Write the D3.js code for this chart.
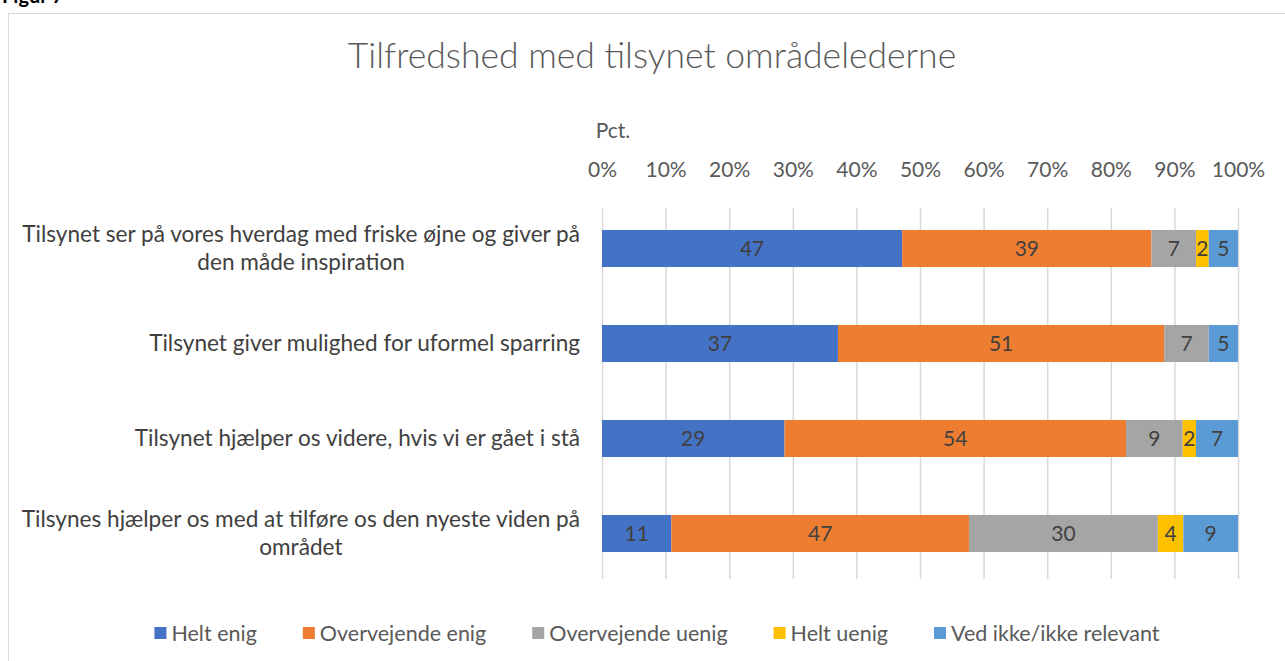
<!DOCTYPE html>
<html>
<head>
<meta charset="utf-8">
<script src="https://cdn.jsdelivr.net/npm/d3@7"></script>
<style>
  body { margin: 0; background: #fff; }
  svg { font-family: Lato, "Open Sans", sans-serif; }
</style>
</head>
<body>
<svg id="chart"></svg>
<script>
var categories = [
  "Tilsynet ser på vores hverdag med friske øjne og giver på den måde inspiration",
  "Tilsynet giver mulighed for uformel sparring",
  "Tilsynet hjælper os videre, hvis vi er gået i stå",
  "Tilsynes hjælper os med at tilføre os den nyeste viden på området"
];
var seriesNames = ["Helt enig", "Overvejende enig", "Overvejende uenig", "Helt uenig", "Ved ikke/ikke relevant"];
var heltEnig = [47.2, 37.1, 28.7, 10.9];
var overvejendeEnig = [39.2, 51.3, 53.7, 46.8];
var overvejendeUenig = [7.0, 7.0, 8.9, 29.7];
var heltUenig = [2.0, 0, 2.1, 4.0];
var vedIkke = [4.6, 4.6, 6.6, 8.6];
var xTicks = [0, 10, 20, 30, 40, 50, 60, 70, 80, 90, 100];
var colors = ["#4472C4", "#ED7D31", "#A5A5A5", "#FFC000", "#5B9BD5"];

var width = 1285, height = 661;
var fs = 21, catFs = 22.6;
var svg = d3.select("#chart").attr("width", width).attr("height", height);

var rows = categories.map(function(c, i) {
  return { cat: c, "Helt enig": heltEnig[i], "Overvejende enig": overvejendeEnig[i],
    "Overvejende uenig": overvejendeUenig[i], "Helt uenig": heltUenig[i], "Ved ikke/ikke relevant": vedIkke[i] };
});

var x = d3.scaleLinear().domain([0, 100]).range([602, 1238]);
var y = d3.scaleBand().domain(categories).range([201, 581]).paddingInner(0.61).paddingOuter(0.305);
var color = d3.scaleOrdinal().domain(seriesNames).range(colors);

// frame
svg.append("rect").attr("x", 8.5).attr("y", 13.5).attr("width", 1290).attr("height", 700)
  .attr("fill", "none").attr("stroke", "#d9d9d9");

svg.append("text").attr("x", 2).attr("y", 3).attr("font-weight", "bold")
  .attr("font-size", 20).attr("fill", "#000").text("Figur 7");

svg.append("text").attr("x", 652).attr("y", 68).attr("text-anchor", "middle")
  .attr("font-size", 35.5).attr("font-weight", 300).attr("fill", "#595959")
  .text("Tilfredshed med tilsynet områdelederne");

svg.append("text").attr("x", 613).attr("y", 138).attr("text-anchor", "middle")
  .attr("font-size", fs).attr("fill", "#595959").text("Pct.");

// gridlines
svg.append("g").selectAll("line").data(xTicks).enter().append("line")
  .attr("x1", function(d) { return x(d) + 0.5; }).attr("x2", function(d) { return x(d) + 0.5; })
  .attr("y1", 208).attr("y2", 579).attr("stroke", "#d9d9d9").attr("stroke-width", 1.5);

var xAxis = d3.axisTop(x).tickValues(xTicks).tickSize(0).tickPadding(0).tickFormat(function(d) { return d + "%"; });
var gx = svg.append("g").attr("transform", "translate(0,177)").call(xAxis);
gx.select(".domain").remove();
gx.selectAll("text").attr("font-size", fs).attr("fill", "#595959").attr("font-family", "Lato");

var stack = d3.stack().keys(seriesNames);
var series = stack(rows);

var layer = svg.append("g").selectAll("g").data(series).enter().append("g")
  .attr("fill", function(d) { return color(d.key); });
layer.selectAll("rect").data(function(d) { return d; }).enter().append("rect")
  .attr("x", function(d) { return x(d[0]); })
  .attr("y", function(d) { return y(d.data.cat); })
  .attr("width", function(d) { return x(d[1]) - x(d[0]); })
  .attr("height", y.bandwidth());

layer.selectAll("text").data(function(d) { return d.filter(function(v) { return v[1] - v[0] > 0; }); })
  .enter().append("text")
  .attr("x", function(d) { return (x(d[0]) + x(d[1])) / 2; })
  .attr("y", function(d) { return y(d.data.cat) + y.bandwidth() / 2; })
  .attr("dy", "0.35em").attr("text-anchor", "middle")
  .attr("font-size", fs).attr("fill", "#404040")
  .text(function(d) { return d3.format(".0f")(d[1] - d[0]); });

// category labels
var yAxis = d3.axisLeft(y).tickSize(0).tickPadding(0);
var gy = svg.append("g").attr("transform", "translate(580,0)").call(yAxis);
gy.select(".domain").remove();
gy.selectAll("text").attr("font-size", catFs).attr("fill", "#404040").attr("font-family", "Lato")
  .attr("text-anchor", "middle").call(wrap, 570);

function wrap(texts, maxW) {
  texts.each(function() {
    var t = d3.select(this), words = t.text().split(" "), lines = [], line = [];
    t.text(null);
    var probe = t.append("tspan");
    words.forEach(function(w) {
      line.push(w);
      probe.text(line.join(" "));
      if (probe.node().getComputedTextLength() > maxW && line.length > 1) {
        line.pop(); lines.push(line.join(" ")); line = [w];
      }
    });
    lines.push(line.join(" "));
    probe.remove();
    var lh = 28;
    lines.forEach(function(l, i) {
      t.append("tspan").attr("dy", i === 0 ? (-(lines.length - 1) * lh / 2 + catFs * 0.35) + "px" : lh + "px").text(l);
    });
    var maxLen = d3.max(t.selectAll("tspan").nodes(), function(n) { return n.getComputedTextLength(); });
    t.selectAll("tspan").attr("x", -maxLen / 2);
  });
}

// legend
var legend = svg.append("g").attr("transform", "translate(0,633)");
var items = legend.selectAll("g").data(seriesNames).enter().append("g");
items.append("rect").attr("width", 12).attr("height", 12).attr("y", -6)
  .attr("fill", function(d) { return color(d); });
items.append("text").attr("x", 17).attr("dy", "0.35em").attr("font-size", 21.5)
  .attr("fill", "#595959").text(function(d) { return d; });
var gap = 46, pos = 0, offs = [];
items.each(function() {
  offs.push(pos);
  pos += 17 + d3.select(this).select("text").node().getComputedTextLength() + gap;
});
var total = pos - gap, start = 657 - total / 2;
items.attr("transform", function(d, i) { return "translate(" + (start + offs[i]) + ",0)"; });
</script>
</body>
</html>
